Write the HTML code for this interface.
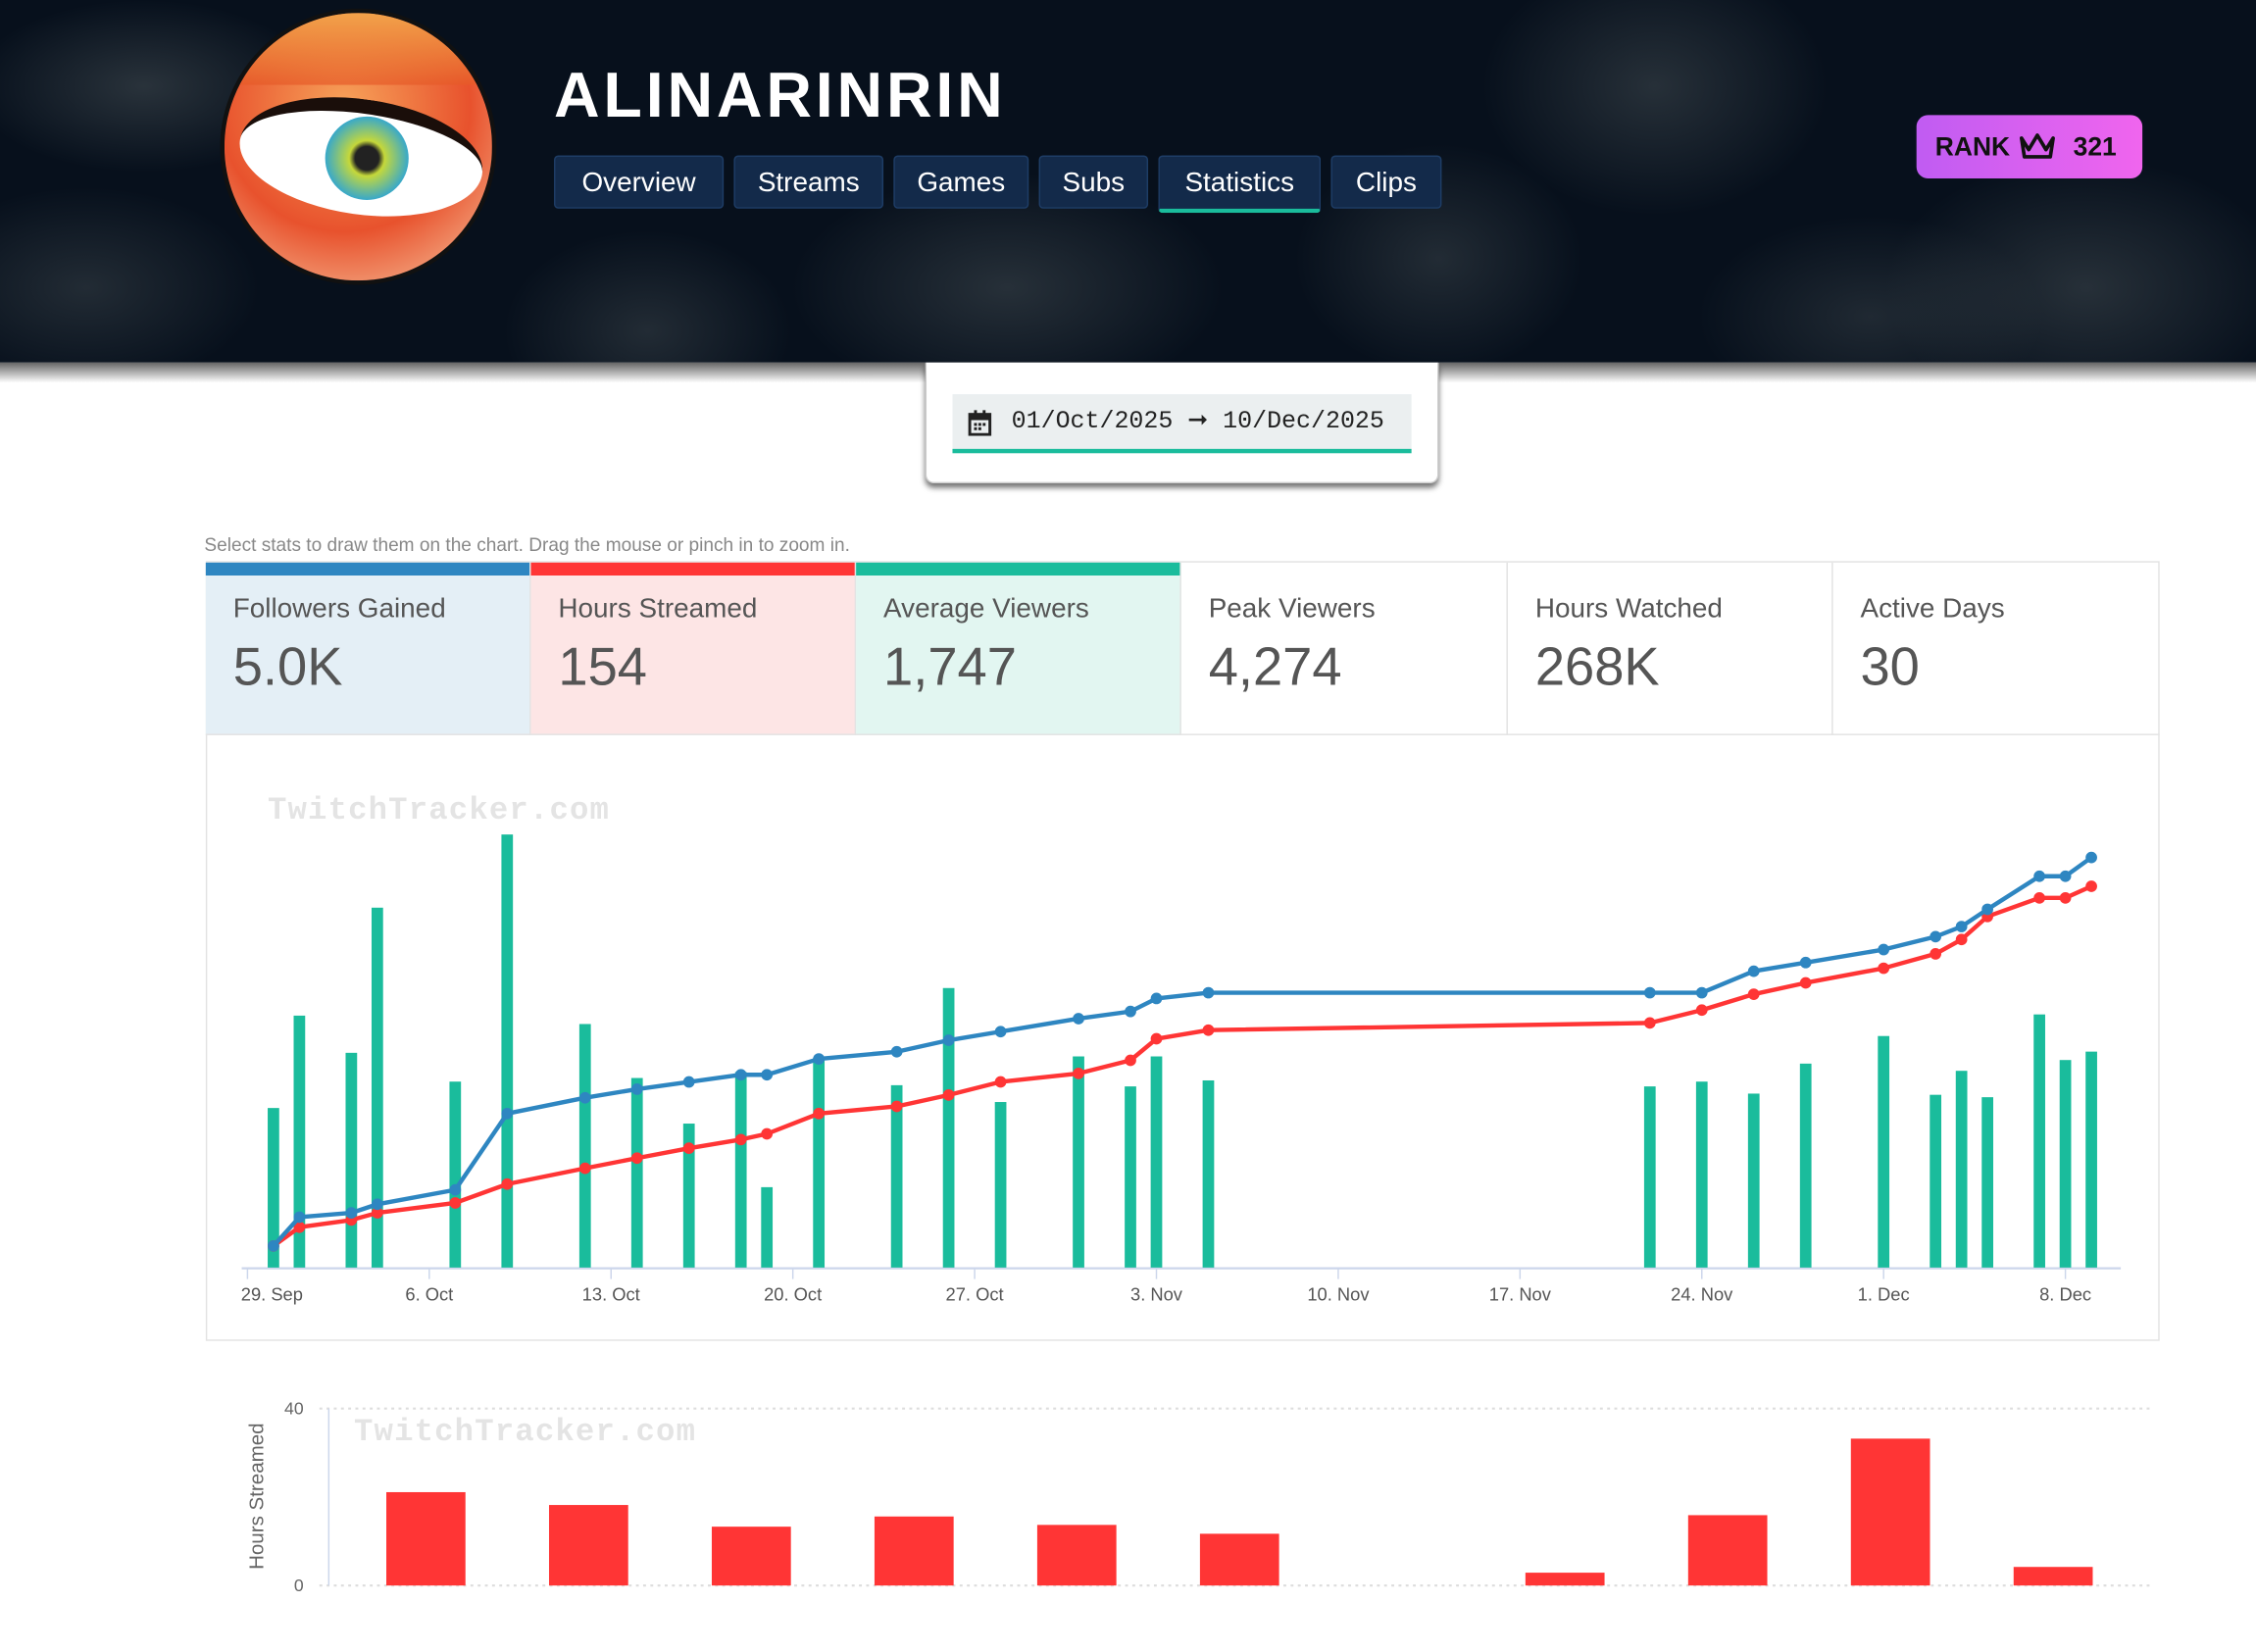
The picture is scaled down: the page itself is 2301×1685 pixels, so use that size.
<!DOCTYPE html>
<html><head><meta charset="utf-8">
<style>
html,body{margin:0;padding:0;background:#fff;overflow:hidden;width:2301px;height:1684px}
#page{position:absolute;left:0;top:0;width:1568px;height:1148px;transform:scale(1.4675);transform-origin:0 0;font-family:"Liberation Sans",sans-serif}
.abs{position:absolute}
#header{left:0;top:0;width:1568px;height:252px;background:
radial-gradient(ellipse 120px 60px at 100px 60px,rgba(120,130,130,.3),transparent),
radial-gradient(ellipse 150px 80px at 700px 200px,rgba(120,130,130,.28),transparent),
radial-gradient(ellipse 120px 90px at 1150px 60px,rgba(120,130,130,.28),transparent),
radial-gradient(ellipse 140px 90px at 1450px 200px,rgba(120,130,130,.28),transparent),
radial-gradient(ellipse 100px 70px at 450px 230px,rgba(120,130,130,.24),transparent),
radial-gradient(ellipse 100px 80px at 1000px 180px,rgba(120,130,130,.24),transparent),
radial-gradient(ellipse 120px 70px at 60px 200px,rgba(120,130,130,.24),transparent),
radial-gradient(ellipse 120px 70px at 1300px 220px,rgba(120,130,130,.22),transparent),
#07101c}
#hshadow{left:0;top:252px;width:1568px;height:14px;background:linear-gradient(#666,rgba(255,255,255,0))}
.nav{position:absolute;top:108px;height:37px;background:#132a4a;border:1px solid #1e3d66;border-radius:3px;color:#fff;font-family:"Liberation Sans",sans-serif;font-size:19px;line-height:37px;text-align:center;box-sizing:border-box}
.card{position:absolute;top:391px;height:120px;width:226px;box-sizing:border-box;border-right:1px solid #e3e3e3;color:#555}
.card .lab{position:absolute;left:19px;top:22px;font-size:19px}
.card .val{position:absolute;left:19px;top:52px;font-size:37px}
.card .bar{position:absolute;left:0;top:0;width:100%;height:9px}
</style></head><body>
<div id="page">
<div id="header" class="abs"></div>
<div id="hshadow" class="abs"></div>
<div class="abs" style="left:153px;top:6px;width:192px;height:192px;border-radius:50%;background:radial-gradient(circle at 45% 35%,#f7a35a,#e8522d 55%,#f4b08a 90%);border:3px solid #111;box-sizing:border-box;overflow:hidden">
  <div style="position:absolute;left:10px;top:60px;width:170px;height:80px;border-radius:50%;background:#fff;border-top:10px solid #1a0e0a;box-sizing:border-box;transform:rotate(8deg)"></div>
  <div style="position:absolute;left:70px;top:72px;width:58px;height:58px;border-radius:50%;background:radial-gradient(circle,#222 0,#222 20%,#c5d83a 30%,#3aa9c8 70%,#ddd 100%)"></div>
  <div style="position:absolute;left:0;top:0;width:192px;height:50px;background:linear-gradient(#f2a24a,rgba(230,90,40,.7))"></div>
</div>
<div class="abs" style="left:385px;top:42px;color:#fff;font-size:44px;font-weight:bold;letter-spacing:2.6px">ALINARINRIN</div>
<div class="nav" style="left:385px;width:118px">Overview</div>
<div class="nav" style="left:510px;width:104px">Streams</div>
<div class="nav" style="left:621px;width:94px">Games</div>
<div class="nav" style="left:722px;width:76px">Subs</div>
<div class="nav" style="left:805px;width:113px;border-bottom:3px solid #1abc9c;height:40px">Statistics</div>
<div class="nav" style="left:925px;width:77px">Clips</div>
<div class="abs" style="left:1332px;top:80px;width:157px;height:44px;border-radius:8px;background:linear-gradient(90deg,#c05cf2,#f065ee);font-weight:bold;font-size:18px;line-height:44px;color:#111">
  <span style="position:absolute;left:13px">RANK</span>
  <svg style="position:absolute;left:71px;top:12px" width="26" height="20" viewBox="0 0 26 20"><path d="M2 4 L7 12 L13 2 L19 12 L24 4 L22 17 L4 17 Z" fill="none" stroke="#111" stroke-width="2.5" stroke-linejoin="round"/></svg>
  <span style="position:absolute;left:109px">321</span>
</div>
<div class="abs" style="left:643px;top:252px;width:357px;height:84px;background:#fff;border-radius:0 0 6px 6px;box-shadow:0 3px 4px rgba(0,0,0,.55);border:1px solid #ccc;border-top:none;box-sizing:border-box"></div>
<div class="abs" style="left:662px;top:274px;width:319px;height:41px;background:#ebeff0;border-bottom:3px solid #1abc9c;box-sizing:border-box;font-family:'Liberation Mono',monospace;font-size:17px;line-height:40px;color:#222">
  <svg style="position:absolute;left:10px;top:11px" width="18" height="18" viewBox="0 0 18 18"><rect x="2" y="3" width="14" height="14" fill="none" stroke="#222" stroke-width="2"/><rect x="2" y="3" width="14" height="4" fill="#222"/><rect x="5" y="0" width="2" height="4" fill="#222"/><rect x="11" y="0" width="2" height="4" fill="#222"/><rect x="5" y="9" width="2" height="2" fill="#222"/><rect x="8" y="9" width="2" height="2" fill="#222"/><rect x="11" y="9" width="2" height="2" fill="#222"/><rect x="5" y="12" width="2" height="2" fill="#222"/><rect x="8" y="12" width="2" height="2" fill="#222"/></svg>
  <span style="position:absolute;left:41px">01/Oct/2025 ➞ 10/Dec/2025</span>
</div>
<div class="abs" style="left:142px;top:371px;font-size:13px;color:#888">Select stats to draw them on the chart. Drag the mouse or pinch in to zoom in.</div>
<div class="abs" style="left:143px;top:390px;width:1358px;height:542px;border:1px solid #e3e3e3;box-sizing:border-box"></div>
<div class="card" style="left:143px;background:#e4eff6"><div class="bar" style="background:#2e86c1"></div><div class="lab">Followers Gained</div><div class="val">5.0K</div></div>
<div class="card" style="left:369px;background:#fde5e5"><div class="bar" style="background:#ff3535"></div><div class="lab">Hours Streamed</div><div class="val">154</div></div>
<div class="card" style="left:595px;background:#e2f6f1"><div class="bar" style="background:#1abc9c"></div><div class="lab">Average Viewers</div><div class="val">1,747</div></div>
<div class="card" style="left:821px;width:227px"><div class="lab">Peak Viewers</div><div class="val">4,274</div></div>
<div class="card" style="left:1048px"><div class="lab">Hours Watched</div><div class="val">268K</div></div>
<div class="card" style="left:1274px;width:227px;border-right:none"><div class="lab">Active Days</div><div class="val">30</div></div>
<div class="abs" style="left:143px;top:510px;width:1358px;height:1px;background:#e3e3e3"></div>
<svg id="main" class="abs" style="left:0;top:0" width="1568" height="1148"></svg>
</div>
<script>
// main chart data (day offset from 29 Sep)
const days=[1,2,4,5,8,10,13,15,17,19,20,22,25,27,29,32,34,35,37,54,56,58,60,63,65,66,67,69,70,71];
const avgViewers=[1330,2100,1790,3000,1550,3610,2030,1580,1200,1630,670,1750,1520,2330,1380,1760,1510,1760,1560,1510,1550,1450,1700,1930,1440,1640,1420,2110,1730,1800];
const followersCum=[263,613,665,770,945,1873,2065,2170,2258,2345,2345,2538,2625,2765,2870,3028,3115,3273,3343,3343,3343,3605,3710,3868,4025,4148,4358,4760,4760,4988];
const hoursCum=[8.7,16.3,19.2,22.1,26.1,33.7,40.1,44.2,48.2,51.7,54.0,62.2,65.1,69.7,75.0,78.4,83.7,92.4,95.9,98.8,104.0,110.4,115.0,120.9,126.7,132.5,141.8,149.3,149.3,154];
const tickDays=[0,7,14,21,28,35,42,49,56,63,70];
const tickLabels=["29. Sep","6. Oct","13. Oct","20. Oct","27. Oct","3. Nov","10. Nov","17. Nov","24. Nov","1. Dec","8. Dec"];
// weekly hours chart
const weeks=[0,1,2,3,4,5,6,7,8,9,10];
const weeklyHours=[21.1,18.2,13.3,15.6,13.7,11.7,0,2.9,15.9,33.2,4.2];
const hTicks=[0,40];

const NS="http://www.w3.org/2000/svg";
const svg=document.getElementById('main');
function mk(tag,attrs,parent){const e=document.createElementNS(NS,tag);for(const k in attrs)e.setAttribute(k,attrs[k]);(parent||svg).appendChild(e);return e;}
const x=d=>172+d*18.05;
const yV=v=>881-v*(321/3850);
const yF=v=>881-v*(285/4988);
const yH=v=>881-v*(265/154);

let t=mk('text',{x:186,y:569,'font-family':'Liberation Mono, monospace','font-size':22,'letter-spacing':0.8,'font-weight':'bold',fill:'#e4e4e4'});
t.textContent='TwitchTracker.com';



let ax=mk('line',{x1:168,x2:1474,y1:881.5,y2:881.5,stroke:'#ccd6eb','stroke-width':1.5});


tickDays.forEach((d,i)=>{
  let l=mk('line',{x1:x(d),x2:x(d),y1:881,y2:889,stroke:'#ccd6eb'});
  
  
  let tx=mk('text',{x:x(d)+(i==0?17:0),y:904,'text-anchor':'middle','font-size':12.5,fill:'#555'});
  tx.textContent=tickLabels[i];
  
  
});
days.forEach((d,i)=>{
  let r=mk('rect',{x:x(d)-4,y:yV(avgViewers[i]),width:8,height:881-yV(avgViewers[i]),fill:'#1abc9c'});
  
  
});
function line(vals,yf,color,name){
  const pts=days.map((d,i)=>x(d)+','+yf(vals[i])).join(' ');
  let p=mk('polyline',{points:pts,fill:'none',stroke:color,'stroke-width':3,'stroke-linejoin':'round'});
  
  
  days.forEach((d,i)=>{
    let c=mk('circle',{cx:x(d),cy:yf(vals[i]),r:4,fill:color});
    
    
  });
}
line(hoursCum,yH,'#ff3535','hours-streamed');
line(followersCum,yF,'#2e86c1','followers');

// weekly chart
const wx=i=>296+i*113.1;
const wy=v=>1102-v*(123/40);
hTicks.forEach(v=>{
  let g=mk('line',{x1:222,x2:1494,y1:wy(v),y2:wy(v),stroke:'#ddd','stroke-dasharray':'2,3','stroke-width':1.5});
  
  
  let tl=mk('text',{x:211,y:wy(v)+4,'text-anchor':'end','font-size':12,fill:'#666'});
  tl.textContent=v;
  
  
});
let ya=mk('line',{x1:228.5,x2:228.5,y1:979,y2:1102,stroke:'#ccd6eb'});


let yt=mk('text',{x:0,y:0,transform:'translate(183,1040) rotate(-90)','text-anchor':'middle','font-size':14,fill:'#666'});
yt.textContent='Hours Streamed';


let w2=mk('text',{x:246,y:1001,'font-family':'Liberation Mono, monospace','font-size':22,'letter-spacing':0.8,'font-weight':'bold',fill:'#e4e4e4'});
w2.textContent='TwitchTracker.com';


weeks.forEach((w,i)=>{
  if(weeklyHours[i]<=0)return;
  let r=mk('rect',{x:wx(w)-27.5,y:wy(weeklyHours[i]),width:55,height:1102-wy(weeklyHours[i]),fill:'#ff3535'});
  
  
});
</script>
</body></html>
